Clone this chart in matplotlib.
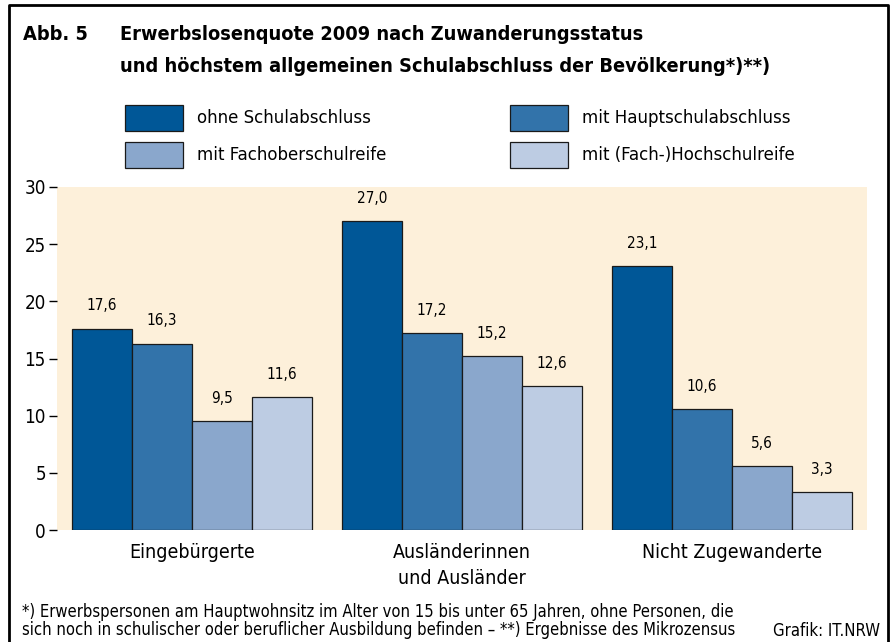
import numpy as np
import matplotlib.pyplot as plt
from matplotlib.lines import Line2D

categories = ["Eingebürgerte", "Ausländerinnen\nund Ausländer", "Nicht Zugewanderte"]
series = ["ohne Schulabschluss", "mit Hauptschulabschluss",
          "mit Fachoberschulreife", "mit (Fach-)Hochschulreife"]
ohne = [17.6, 27.0, 23.1]
haupt = [16.3, 17.2, 10.6]
fachober = [9.5, 15.2, 5.6]
hochschul = [11.6, 12.6, 3.3]
values = [ohne, haupt, fachober, hochschul]
colors = ["#005797", "#3273aa", "#8aa7cc", "#bdcce3"]
yticks = [0, 5, 10, 15, 20, 25, 30]

plt.rcParams["font.family"] = ["DejaVu Sans"]
plt.rcParams["font.stretch"] = "condensed"

W, H = 890, 642
fig = plt.figure(figsize=(W / 100, H / 100), dpi=100)

ax = fig.add_axes([57 / W, 1 - 530 / H, (867 - 57) / W, (530 - 187) / H])
ax.set_facecolor("#fdf0da")
x = np.arange(len(categories))
w = 60 / 270
for i, vals in enumerate(values):
    pos = x - 1.5 * w + i * w
    ax.bar(pos, vals, width=w, color=colors[i], edgecolor="#1a1a1a", linewidth=0.9)
    for p, v in zip(pos, vals):
        ax.annotate(f"{v:.1f}".replace(".", ","), (p, v), xytext=(0, 11),
                    textcoords="offset points", ha="center", va="bottom", fontsize=11)

ax.set_xlim(-0.5, 2.5)
ax.set_ylim(0, 30)
ax.set_yticks(yticks)
ax.tick_params(axis="y", length=6, width=1, labelsize=13.5, pad=2)
ax.set_xticks(x)
ax.set_xticklabels(categories, fontsize=14, linespacing=1.5, va="top")
ax.tick_params(axis="x", length=0, pad=9)
for s in ax.spines.values():
    s.set_visible(False)

# title
fig.text(23 / W, 1 - 35 / H, "Abb. 5", fontsize=14.3, fontweight="bold", va="center")
fig.text(120 / W, 1 - 35 / H, "Erwerbslosenquote 2009 nach Zuwanderungsstatus",
         fontsize=14.3, fontweight="bold", va="center")
fig.text(120 / W, 1 - 66 / H, "und höchstem allgemeinen Schulabschluss der Bevölkerung*)**)",
         fontsize=14.3, fontweight="bold", va="center")

# legend
leg_pos = [(125, 118), (510, 118), (125, 155), (510, 155)]
for (lx, ly), name, c in zip(leg_pos, series, colors):
    fig.patches.append(plt.Rectangle((lx / W, 1 - (ly + 13) / H), 58 / W, 26 / H,
                                     transform=fig.transFigure, facecolor=c,
                                     edgecolor="#1a1a1a", linewidth=0.9))
    fig.text((lx + 72) / W, 1 - ly / H, name, fontsize=13.3, va="center")

# footer
fig.text(22 / W, 1 - 612 / H,
         "*) Erwerbspersonen am Hauptwohnsitz im Alter von 15 bis unter 65 Jahren, ohne Personen, die",
         fontsize=11.9, va="center")
fig.text(22 / W, 1 - 630 / H,
         "sich noch in schulischer oder beruflicher Ausbildung befinden – **) Ergebnisse des Mikrozensus",
         fontsize=11.9, va="center")
fig.text(880 / W, 1 - 631 / H, "Grafik: IT.NRW", fontsize=12, va="center", ha="right")

# frame
fig.lines.append(Line2D([9 / W, 9 / W, 888 / W, 888 / W], [0, 1 - 5 / H, 1 - 5 / H, 0],
                        transform=fig.transFigure, color="black", linewidth=2))

fig.savefig("out.png", dpi=100)
